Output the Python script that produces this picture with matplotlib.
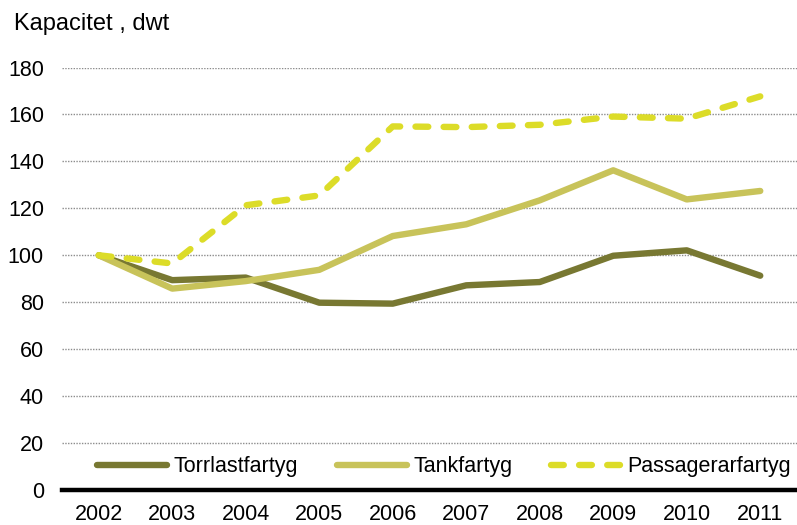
import matplotlib
matplotlib.use("Agg")
import matplotlib.pyplot as plt
import numpy as np

years = ["2002", "2003", "2004", "2005", "2006", "2007", "2008", "2009", "2010", "2011"]
torrlast = [100, 89.4, 90.5, 79.8, 79.4, 87.2, 88.6, 99.8, 102.1, 91.3]
tank = [100, 85.8, 89.0, 93.8, 108.2, 113.2, 123.4, 136.2, 123.8, 127.4]
passager = [100, 96.5, 121.3, 125.5, 154.9, 154.6, 155.6, 159.1, 158.2, 167.7]
yticks = [0, 20, 40, 60, 80, 100, 120, 140, 160, 180]

plt.rcParams["font.family"] = ["Liberation Sans", "DejaVu Sans"]

fig = plt.figure(figsize=(7.97, 5.25), dpi=100)
ax = fig.add_axes([62 / 797, 35 / 525, 735 / 797, 422.5 / 525])

x = np.arange(len(years))
lw = 4.6
ax.plot(x, torrlast, color="#787832", lw=lw, solid_capstyle="round",
        solid_joinstyle="round", label="Torrlastfartyg", zorder=3)
ax.plot(x, tank, color="#c8c35a", lw=lw, solid_capstyle="round",
        solid_joinstyle="round", label="Tankfartyg", zorder=3)
ax.plot(x, passager, color="#dcdc28", lw=lw, dashes=(2.0, 2.4),
        dash_capstyle="round", label="Passagerarfartyg", zorder=4)

ax.set_xlim(-0.5, len(years) - 0.5)
ax.set_ylim(0, 180)
ax.set_xticks(x)
ax.set_xticklabels(years)
ax.set_yticks(yticks)
ax.tick_params(axis="both", length=0, labelsize=15.5, colors="black")
ax.tick_params(axis="x", pad=10)
ax.tick_params(axis="y", pad=13)

for v in yticks[1:]:
    ax.axhline(v, color="#8c8c8c", lw=1.0, ls=(0, (1, 1)), zorder=1)
ax.axhline(0, color="black", lw=3.2, zorder=5, clip_on=False)

for s in ax.spines.values():
    s.set_visible(False)

fig.text(14 / 797, 1 - 24 / 525, "Kapacitet , dwt", fontsize=17,
         ha="left", va="center")

ax.legend(loc="center", bbox_to_anchor=(0.52, 0.055), ncol=3, frameon=False,
          fontsize=15.5, handlelength=3.25, handletextpad=0.3,
          columnspacing=1.8, borderpad=0.1)

fig.savefig("out.png", dpi=100)
